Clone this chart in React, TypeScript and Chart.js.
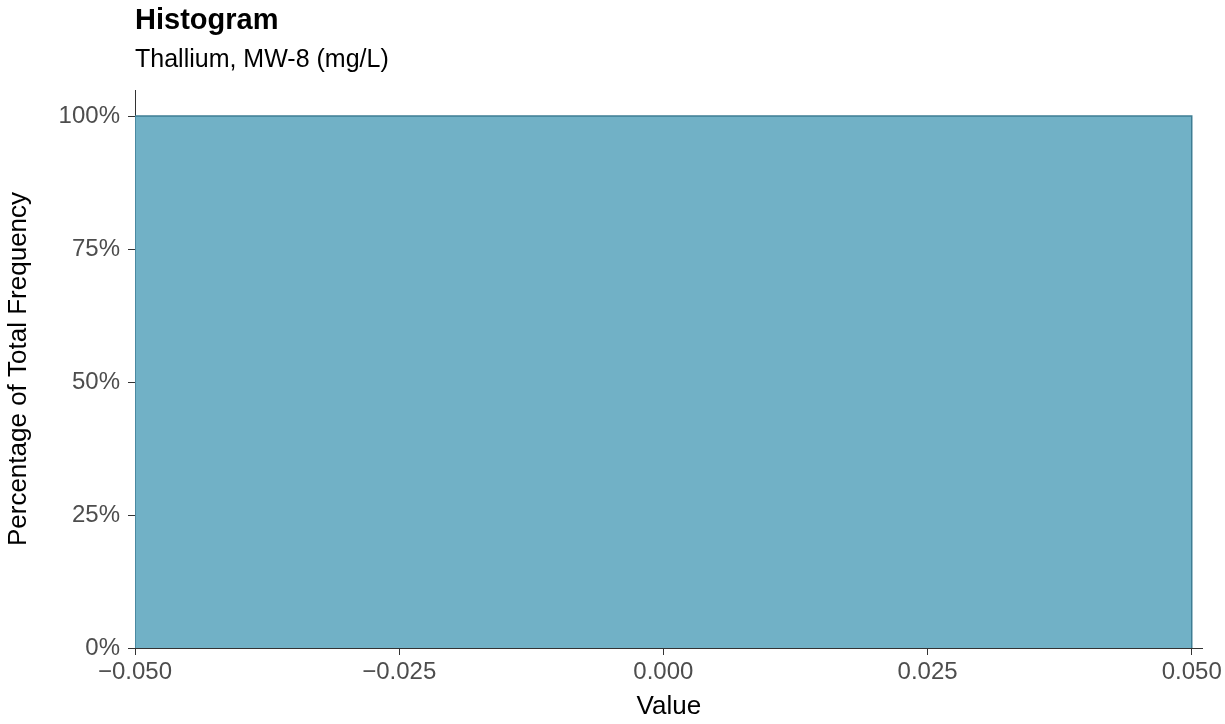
import React, { useEffect, useRef } from "react";
import { Chart, registerables } from "chart.js";

Chart.register(...registerables);

// ---- data ----
const binStarts: number[] = [-0.05];
const binEnds: number[] = [0.05];
const binPercentages: number[] = [1.0];

const xTickValues: number[] = [-0.05, -0.025, 0, 0.025, 0.05];
const yTickValues: number[] = [0, 0.25, 0.5, 0.75, 1.0];

const titleText = "Histogram";
const subtitleText = "Thallium, MW-8 (mg/L)";
const xAxisTitle = "Value";
const yAxisTitle = "Percentage of Total Frequency";

const FONT = '"Liberation Sans", Arial, Helvetica, sans-serif';

function buildPolygon() {
  const pts: { x: number; y: number }[] = [];
  for (let i = 0; i < binStarts.length; i++) {
    pts.push({ x: binStarts[i], y: 0 });
    pts.push({ x: binStarts[i], y: binPercentages[i] });
    pts.push({ x: binEnds[i], y: binPercentages[i] });
    pts.push({ x: binEnds[i], y: 0 });
  }
  return pts;
}

const titlePlugin = {
  id: "customTitles",
  afterDraw(chart: any) {
    const ctx = chart.ctx;
    const left = chart.chartArea.left;
    ctx.save();
    ctx.fillStyle = "#000000";
    ctx.textAlign = "left";
    ctx.textBaseline = "alphabetic";
    ctx.font = `bold 29px ${FONT}`;
    ctx.fillText(titleText, left, 29);
    ctx.font = `25px ${FONT}`;
    ctx.fillText(subtitleText, left, 67);
    ctx.restore();
  },
};

export default function App() {
  const ref = useRef<HTMLCanvasElement | null>(null);

  useEffect(() => {
    if (!ref.current) return;
    const chart = new Chart(ref.current, {
      type: "line",
      data: {
        datasets: [
          {
            data: buildPolygon(),
            fill: "origin",
            backgroundColor: "#71B1C6",
            borderColor: "#3E7D94",
            borderWidth: 1.5,
            pointRadius: 0,
            tension: 0,
          },
        ],
      },
      options: {
        animation: false,
        responsive: false,
        parsing: false as any,
        layout: { padding: { top: 90, right: 22, left: 0, bottom: 0 } },
        plugins: {
          legend: { display: false },
          tooltip: { enabled: false },
          title: { display: false },
        },
        scales: {
          x: {
            type: "linear",
            min: -0.05,
            max: 0.05104,
            z: 1,
            afterFit: (s: any) => {
              s.height = 76;
            },
            afterBuildTicks: (s: any) => {
              s.ticks = xTickValues.map((v) => ({ value: v }));
            },
            grid: {
              display: true,
              drawOnChartArea: false,
              drawTicks: true,
              tickLength: 7,
              color: "#333333",
              lineWidth: 1,
            },
            border: { display: true, color: "#333333", width: 1 },
            ticks: {
              padding: 3,
              color: "#4D4D4D",
              font: { family: FONT, size: 24 },
              maxRotation: 0,
              autoSkip: false,
              callback: (v: any) => {
                const n = Number(v);
                const s = Math.abs(n).toFixed(3);
                return n < 0 ? "\u2212" + s : s;
              },
            },
            title: {
              display: true,
              text: xAxisTitle,
              color: "#000000",
              font: { family: FONT, size: 26 },
              padding: { top: 0, bottom: 2 },
            },
          },
          y: {
            type: "linear",
            min: 0,
            max: 1.049,
            z: 1,
            afterFit: (s: any) => {
              s.width = 135;
            },
            afterBuildTicks: (s: any) => {
              s.ticks = yTickValues.map((v) => ({ value: v }));
            },
            grid: {
              display: true,
              drawOnChartArea: false,
              drawTicks: true,
              tickLength: 7,
              color: "#333333",
              lineWidth: 1,
            },
            border: { display: true, color: "#333333", width: 1 },
            ticks: {
              padding: 8,
              color: "#4D4D4D",
              font: { family: FONT, size: 24 },
              autoSkip: false,
              callback: (v: any) => `${Math.round(Number(v) * 100)}%`,
            },
            title: {
              display: true,
              text: yAxisTitle,
              color: "#000000",
              font: { family: FONT, size: 26 },
              padding: { top: 3, bottom: 0 },
            },
          },
        },
      },
      plugins: [titlePlugin],
    });
    return () => chart.destroy();
  }, []);

  return (
    <div style={{ position: "absolute", left: 0, top: 0, width: 1225, height: 724, background: "#ffffff" }}>
      <canvas ref={ref} width={1225} height={724} style={{ display: "block" }} />
    </div>
  );
}
